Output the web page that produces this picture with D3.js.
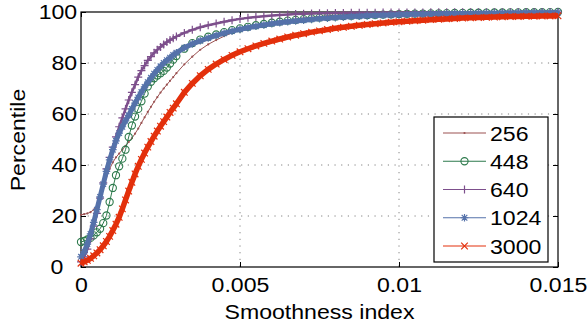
<!DOCTYPE html>
<html>
<head>
<meta charset="utf-8">
<script src="https://cdn.jsdelivr.net/npm/d3@7"></script>
<style>
  body { margin: 0; background: #fff; }
  text { font-family: "Liberation Sans", Arial, sans-serif; }
</style>
</head>
<body>
<svg id="chart" width="587" height="324"></svg>
<script>
// smoothness index samples (fine steps where the curves are steep)
const xs = [
  0, 0.0001, 0.0002, 0.0003, 0.0004, 0.0005, 0.0006, 0.0007, 0.0008, 0.0009,
  0.001, 0.0011, 0.0012, 0.0013, 0.0014, 0.0015, 0.0016, 0.0017, 0.0018, 0.0019,
  0.002, 0.0021, 0.0022, 0.0023, 0.0024, 0.0025, 0.0026, 0.0027, 0.0028, 0.0029,
  0.003,
  0.00325, 0.0035, 0.00375, 0.004, 0.00425, 0.0045, 0.00475, 0.005,
  0.00525, 0.0055, 0.00575, 0.006, 0.00625, 0.0065, 0.00675, 0.007,
  0.00725, 0.0075, 0.00775, 0.008, 0.00825, 0.0085, 0.00875, 0.009,
  0.00925, 0.0095, 0.00975, 0.01, 0.01025, 0.0105, 0.01075, 0.011,
  0.01125, 0.0115, 0.01175, 0.012, 0.01225, 0.0125, 0.01275, 0.013,
  0.01325, 0.0135, 0.01375, 0.014, 0.01425, 0.0145, 0.01475, 0.015
];

// percentile per series, same layout as xs
const p256 = [
  20.5, 20.7, 21, 21.5, 22.5, 24, 26.5, 31, 35.5, 38.5,
  41, 43, 44.5, 46, 47.5, 49, 50.5, 52.3, 54.3, 56.5,
  58.7, 60.8, 62.8, 64.8, 66.6, 68.4, 70, 71.5, 73, 74.5,
  76,
  79.5, 82.5, 85.2, 87.3, 89, 90.5, 91.8, 92.8,
  93.7, 94.5, 95.2, 95.8, 96.3, 96.8, 97.2, 97.6,
  97.9, 98.2, 98.5, 98.7, 98.9, 99.1, 99.2, 99.3,
  99.4, 99.5, 99.55, 99.6, 99.65, 99.7, 99.72, 99.75,
  99.78, 99.8, 99.82, 99.84, 99.86, 99.88, 99.9, 99.91,
  99.92, 99.93, 99.94, 99.95, 99.96, 99.97, 99.98, 100
];
const p448 = [
  9.8, 10.2, 10.8, 11.4, 12.4, 13.6, 15, 17.2, 20.2, 25.5,
  31, 36, 39.5, 42.5, 46, 51, 55.5, 59, 62, 65,
  68, 70.8, 72.6, 74, 75.1, 76, 76.9, 78.2, 79.8, 81.3,
  82.7,
  85.6, 87.8, 89.2, 90.3, 91.2, 92.1, 92.9, 93.6,
  94.2, 94.8, 95.3, 95.8, 96.2, 96.6, 96.9, 97.2,
  97.5, 97.8, 98, 98.2, 98.4, 98.55, 98.7, 98.8,
  98.9, 99, 99.1, 99.2, 99.3, 99.35, 99.4, 99.45,
  99.5, 99.55, 99.6, 99.65, 99.7, 99.7, 99.75, 99.8,
  99.8, 99.85, 99.85, 99.9, 99.9, 99.9, 99.95, 100
];
const p640 = [
  2, 4, 7, 11, 16, 21, 27, 33, 38.5, 43,
  47, 51, 55, 58.5, 62, 65.5, 68.5, 71.5, 74.5, 77,
  79, 81, 82.5, 84, 85.2, 86.3, 87.3, 88.2, 89, 89.7,
  90.4,
  91.8, 93, 94, 94.8, 95.5, 96.2, 96.8, 97.3,
  97.7, 98, 98.3, 98.6, 98.8, 99, 99.2, 99.3,
  99.4, 99.5, 99.55, 99.6, 99.63, 99.66, 99.69, 99.72,
  99.74, 99.76, 99.78, 99.8, 99.82, 99.84, 99.85, 99.86,
  99.87, 99.88, 99.89, 99.9, 99.91, 99.92, 99.93, 99.94,
  99.95, 99.96, 99.97, 99.97, 99.98, 99.98, 99.99, 100
];
const p1024 = [
  4, 6, 9, 13, 17.5, 22.5, 27.5, 32.5, 37.5, 42,
  46, 49.5, 52.5, 55, 57.3, 59.5, 62, 64.3, 66.5, 68.6,
  70.6, 72.5, 74.2, 75.8, 77.3, 78.7, 80, 81.1, 82.1, 83.1,
  84,
  86, 87.5, 88.7, 89.8, 90.8, 91.7, 92.5, 93.2,
  93.8, 94.4, 94.9, 95.4, 95.8, 96.2, 96.5, 96.8,
  97.1, 97.4, 97.6, 97.8, 98, 98.2, 98.35, 98.5,
  98.6, 98.7, 98.8, 98.9, 99, 99.1, 99.15, 99.2,
  99.25, 99.3, 99.35, 99.4, 99.45, 99.5, 99.5, 99.55,
  99.6, 99.6, 99.65, 99.7, 99.7, 99.75, 99.75, 99.8
];
const p3000 = [
  1.5, 2, 2.6, 3.4, 4.4, 5.5, 6.8, 8.3, 10, 12,
  14.3, 16.8, 19.5, 22.8, 26.3, 29.8, 33.2, 36.5, 39.5, 42.2,
  44.7, 47, 49.2, 51.3, 53.3, 55.2, 57, 58.8, 60.6, 62.3,
  64,
  68.5, 72, 75, 77.5, 79.6, 81.4, 83, 84.4,
  85.6, 86.7, 87.7, 88.6, 89.4, 90.2, 90.9, 91.5,
  92.1, 92.6, 93.1, 93.6, 94, 94.4, 94.8, 95.1,
  95.4, 95.7, 96, 96.2, 96.4, 96.6, 96.8, 97,
  97.15, 97.3, 97.45, 97.6, 97.7, 97.8, 97.9, 98,
  98.1, 98.2, 98.25, 98.3, 98.35, 98.4, 98.45, 98.5
];

const seriesNames = ["256", "448", "640", "1024", "3000"];
const xTicks = [0, 0.005, 0.01, 0.015];
const xTickLabels = ["0", "0.005", "0.01", "0.015"];
const yTicks = [0, 20, 40, 60, 80, 100];

const series = [
  { name: seriesNames[0], values: p256, color: "#9b5252", marker: "dot", band: 1 },
  { name: seriesNames[1], values: p448, color: "#2d7a4c", marker: "circle", band: 1 },
  { name: seriesNames[2], values: p640, color: "#7d4f8c", marker: "plus", band: 2.5 },
  { name: seriesNames[3], values: p1024, color: "#5572aa", marker: "star", band: 5 },
  { name: seriesNames[4], values: p3000, color: "#e3300c", marker: "cross", band: 5.5 }
];

const svg = d3.select("#chart");
const margin = { top: 12, right: 29, bottom: 57, left: 81 };
const W = 587, H = 324;
const innerW = W - margin.left - margin.right;
const innerH = H - margin.top - margin.bottom;
const stretch = "scale(1.1,1)";  // the original glyphs are a bit wider than Arial

const g = svg.append("g").attr("transform", `translate(${margin.left},${margin.top})`);

const x = d3.scaleLinear().domain([0, 0.015]).range([0, innerW]);
const y = d3.scaleLinear().domain([0, 100]).range([innerH, 0]);

// dotted grid
g.append("g").selectAll("line")
  .data(xTicks.slice(1, -1))
  .join("line")
  .attr("x1", d => x(d)).attr("x2", d => x(d))
  .attr("y1", 0).attr("y2", innerH)
  .attr("stroke", "#808080").attr("stroke-width", 1)
  .attr("stroke-dasharray", "1.2 5.47");
g.append("g").selectAll("line")
  .data(yTicks.slice(1, -1))
  .join("line")
  .attr("x1", 0).attr("x2", innerW)
  .attr("y1", d => y(d)).attr("y2", d => y(d))
  .attr("stroke", "#808080").attr("stroke-width", 1)
  .attr("stroke-dasharray", "1.2 5.47");

function styleAxis(a) {
  a.select(".domain").remove();
  a.selectAll(".tick line").attr("stroke", "#000");
  a.selectAll(".tick text").attr("fill", "#000").attr("font-size", 21)
    .attr("transform", stretch)
    .style("font-family", '"Liberation Sans", Arial, sans-serif');
}

g.append("g")
  .attr("transform", `translate(0,${innerH})`)
  .call(d3.axisBottom(x).tickValues(xTicks).tickFormat((d, i) => xTickLabels[i])
    .tickSizeInner(-5).tickSizeOuter(0).tickPadding(10))
  .call(styleAxis);

g.append("g")
  .call(d3.axisTop(x).tickValues(xTicks).tickFormat("")
    .tickSizeInner(-5).tickSizeOuter(0))
  .call(styleAxis);

g.append("g")
  .call(d3.axisLeft(y).tickValues(yTicks).tickFormat(d3.format("d"))
    .tickSizeInner(-5).tickSizeOuter(0).tickPadding(3.5))
  .call(styleAxis)
  .call(a => a.selectAll(".tick text").filter(d => d === 0).attr("x", -16));

g.append("g")
  .attr("transform", `translate(${innerW},0)`)
  .call(d3.axisRight(y).tickValues(yTicks).tickFormat("")
    .tickSizeInner(-5).tickSizeOuter(0))
  .call(styleAxis);

// box
g.append("rect")
  .attr("width", innerW).attr("height", innerH)
  .attr("fill", "none").attr("stroke", "#000").attr("stroke-width", 1.2);

function markerPath(type) {
  if (type === "plus") return "M-4,0H4M0,-4V4";
  if (type === "cross") return "M-3.3,-3.3L3.3,3.3M-3.3,3.3L3.3,-3.3";
  if (type === "star") return "M-3.8,0H3.8M0,-3.8V3.8M-2.8,-2.8L2.8,2.8M-2.8,2.8L2.8,-2.8";
  return null;
}

function drawMarker(sel, type, color) {
  if (type === "circle") {
    sel.append("circle").attr("r", 3.6).attr("fill", "none")
      .attr("stroke", color).attr("stroke-width", 1.1);
  } else if (type === "dot") {
    sel.append("circle").attr("r", 1.1).attr("fill", color);
  } else {
    sel.append("path").attr("d", markerPath(type)).attr("fill", "none")
      .attr("stroke", color).attr("stroke-width", 1.2);
  }
}

const line = d3.line().x(d => x(d[0])).y(d => y(d[1]));

series.forEach(s => {
  const pts = xs.map((v, i) => [v, s.values[i]]);
  const sg = g.append("g");
  sg.append("path")
    .attr("d", line(pts))
    .attr("fill", "none")
    .attr("stroke", s.color)
    .attr("stroke-width", s.band)
    .attr("stroke-linejoin", "round");
  sg.selectAll(".m")
    .data(pts)
    .join("g")
    .attr("class", "m")
    .attr("transform", d => `translate(${x(d[0])},${y(d[1])})`)
    .each(function() { drawMarker(d3.select(this), s.marker, s.color); });
});

// axis titles
svg.append("text")
  .attr("transform", `translate(${margin.left + innerW / 2},319) ${stretch}`)
  .attr("text-anchor", "middle")
  .attr("font-size", 21)
  .text("Smoothness index");

svg.append("text")
  .attr("transform", `translate(25,140) rotate(-90) ${stretch}`)
  .attr("text-anchor", "middle")
  .attr("font-size", 21)
  .text("Percentile");

// legend
const legend = svg.append("g").attr("transform", "translate(434,117)");
legend.append("rect")
  .attr("width", 114).attr("height", 145)
  .attr("fill", "#fff").attr("stroke", "#000").attr("stroke-width", 1.2);

series.forEach((s, i) => {
  const row = legend.append("g").attr("transform", `translate(0,${16 + i * 28.25})`);
  row.append("line")
    .attr("x1", 9).attr("x2", 52)
    .attr("stroke", s.color).attr("stroke-width", 1.2);
  drawMarker(row.append("g").attr("transform", "translate(30.5,0)"), s.marker, s.color);
  row.append("text")
    .attr("transform", `translate(56,7.5) ${stretch}`)
    .attr("font-size", 21)
    .text(s.name);
});
</script>
</body>
</html>
